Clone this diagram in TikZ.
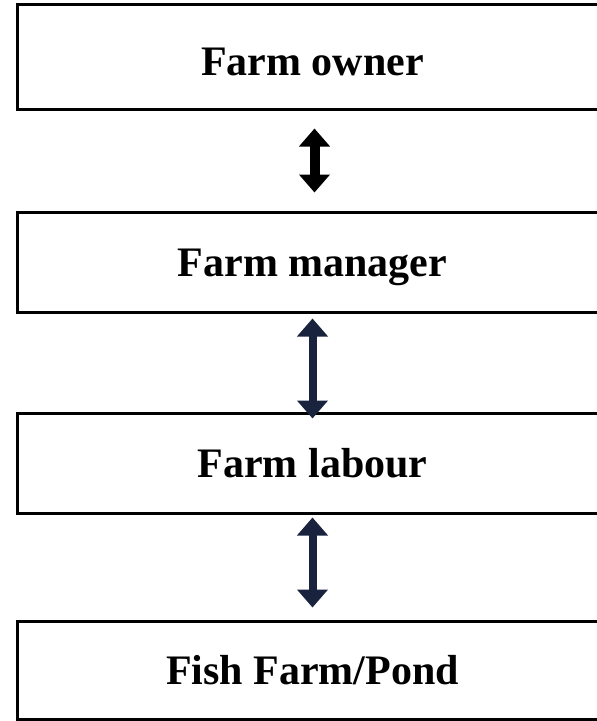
\documentclass[tikz,border=0pt]{standalone}
\usepackage{fontspec}
\setmainfont{Liberation Serif}
\usetikzlibrary{arrows.meta}
\definecolor{navyarrow}{RGB}{25,35,62}
\begin{document}
\begin{tikzpicture}[x=1pt,y=1pt,
    level/.style={draw=black,line width=3pt,fill=white,minimum width=591pt,minimum height=100pt,
      text height=28pt,text depth=0pt,font=\fontsize{42}{50}\selectfont\bfseries},
    link/.style={line width=8pt,{Triangle[width=30pt,length=18pt]}-{Triangle[width=30pt,length=18pt]}}]
  \useasboundingbox (0,0) rectangle (597,-721);

  % Boxes
  \node[level,minimum height=105pt,text height=38pt] (owner) at (312.5,-56.5) {Farm owner};
  \node[level] (manager) at (312.5,-262) {Farm manager};
  \node[level] (labour) at (312.5,-463) {Farm labour};
  \node[level,minimum height=98pt] (pond) at (312.5,-670) {Fish Farm/Pond};

  % Arrows
  \draw[link,black,line width=10pt] ([xshift=2,yshift=-18]owner.south) -- ([xshift=2,yshift=18]manager.north);
  \draw[link,navyarrow] ([yshift=-5]manager.south) -- ([yshift=-7]labour.north);
  \draw[link,navyarrow] ([yshift=-3]labour.south) -- ([yshift=12]pond.north);
\end{tikzpicture}
\end{document}
